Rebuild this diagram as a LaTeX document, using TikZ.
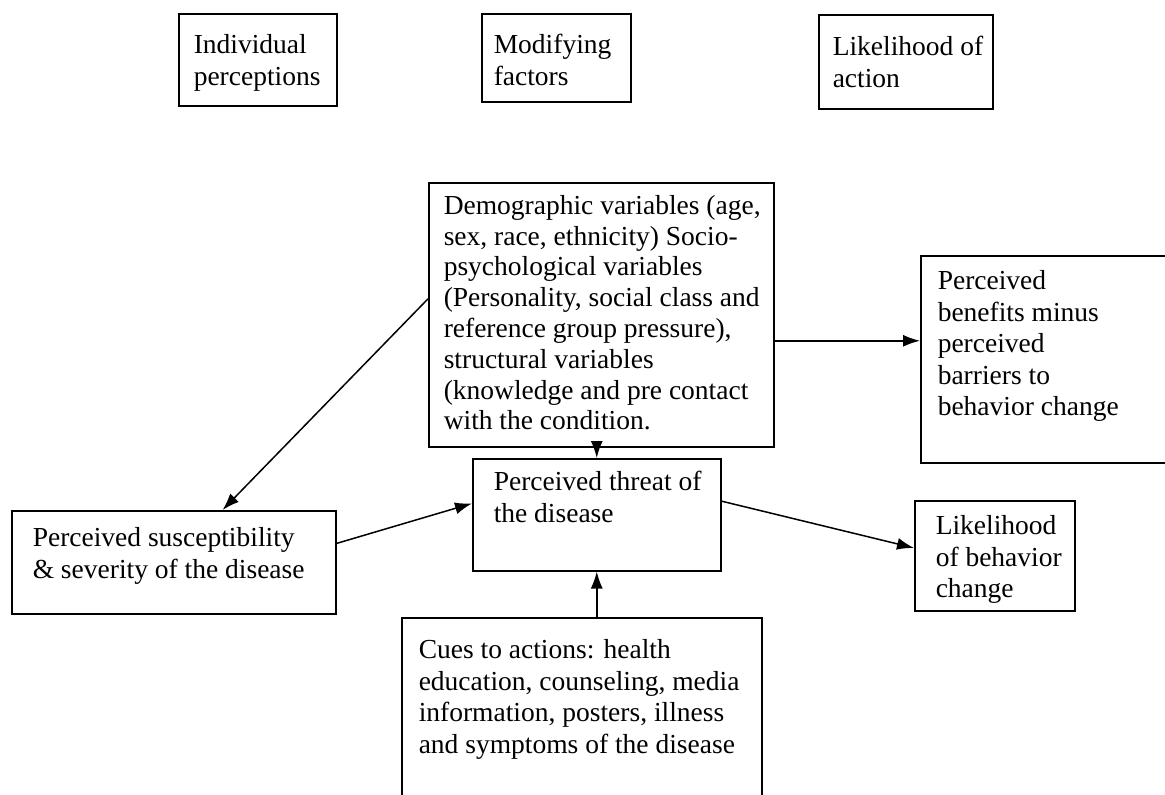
\documentclass[tikz,border=0pt]{standalone}
\usepackage{fontspec}
\setmainfont{Liberation Serif}
\usetikzlibrary{arrows.meta,calc}
\newcommand\tbox[5]{\parbox[c][#2pt][t]{#1pt}{\raggedright\leftskip=#3pt\relax\vspace*{#4pt}\strut #5\par}}
\begin{document}
\begin{tikzpicture}[x=1pt,y=-1pt,
  bx/.style={draw, line width=1.5pt, inner sep=0pt, anchor=north west,
    font=\fontsize{27.5}{31.5}\selectfont},
  dense/.style={font=\fontsize{27.5}{30.8}\selectfont},
  arr/.style={line width=1.5pt, -{Latex[length=17pt,width=12pt]}}]
\path[use as bounding box] (0,0) rectangle (1165,795);
\clip (0,0) rectangle (1165,795);
\fill[white] (0,0) rectangle (1165,795);
% header boxes
\node[bx] (A) at (178,13) {\tbox{158}{92}{15}{18}{Individual\\perceptions}};
\node[bx] (B) at (481,13) {\tbox{149}{88}{12}{18}{Modifying\\factors}};
\node[bx] (C) at (818,14) {\tbox{174}{94}{14}{19}{Likelihood of\\action}};
% main boxes
\node[bx, dense] (D) at (428,182) {\tbox{345}{264}{15}{10}{Demographic variables (age,\\sex, race, ethnicity) Socio-\\psychological variables\\(Personality, social class and\\reference group pressure),\\structural variables\\(knowledge and pre contact\\with the condition.}};
\node[bx] (E) at (920,255) {\tbox{280}{207}{17}{12}{Perceived\\benefits minus\\perceived\\barriers to\\behavior change}};
\node[bx] (F) at (11,510) {\tbox{324}{103}{21}{14}{Perceived susceptibility\\\&~severity of the disease}};
\node[bx] (G) at (472,458) {\tbox{248}{112}{21}{10}{Perceived threat of\\the disease}};
\node[bx] (H) at (914,500) {\tbox{160}{110}{21}{12}{Likelihood\\of behavior\\change}};
\node[bx] (I) at (401,617) {\tbox{360}{203}{17}{19}{Cues to actions: health\\education, counseling, media\\information, posters, illness\\and symptoms of the disease}};
% connectors
\coordinate (d1) at ($(D.north east)!0.598!(D.south east)$);
\draw[arr] (d1) -- (d1 -| E.west);
\draw[arr] ($(D.north west)!0.44!(D.south west)$) -- ($(F.north west)!0.65!(F.north east)$);
\draw[arr] ($(F.north east)!0.32!(F.south east)$) -- ($(G.north west)!0.40!(G.south west)$);
\draw[arr] (D.south -| G.north) -- (G.north);
\draw[arr] ($(G.north east)!0.38!(G.south east)$) -- ($(H.north west)!0.43!(H.south west)$);
\draw[arr] (I.north -| G.south) -- (G.south);
\end{tikzpicture}
\end{document}
